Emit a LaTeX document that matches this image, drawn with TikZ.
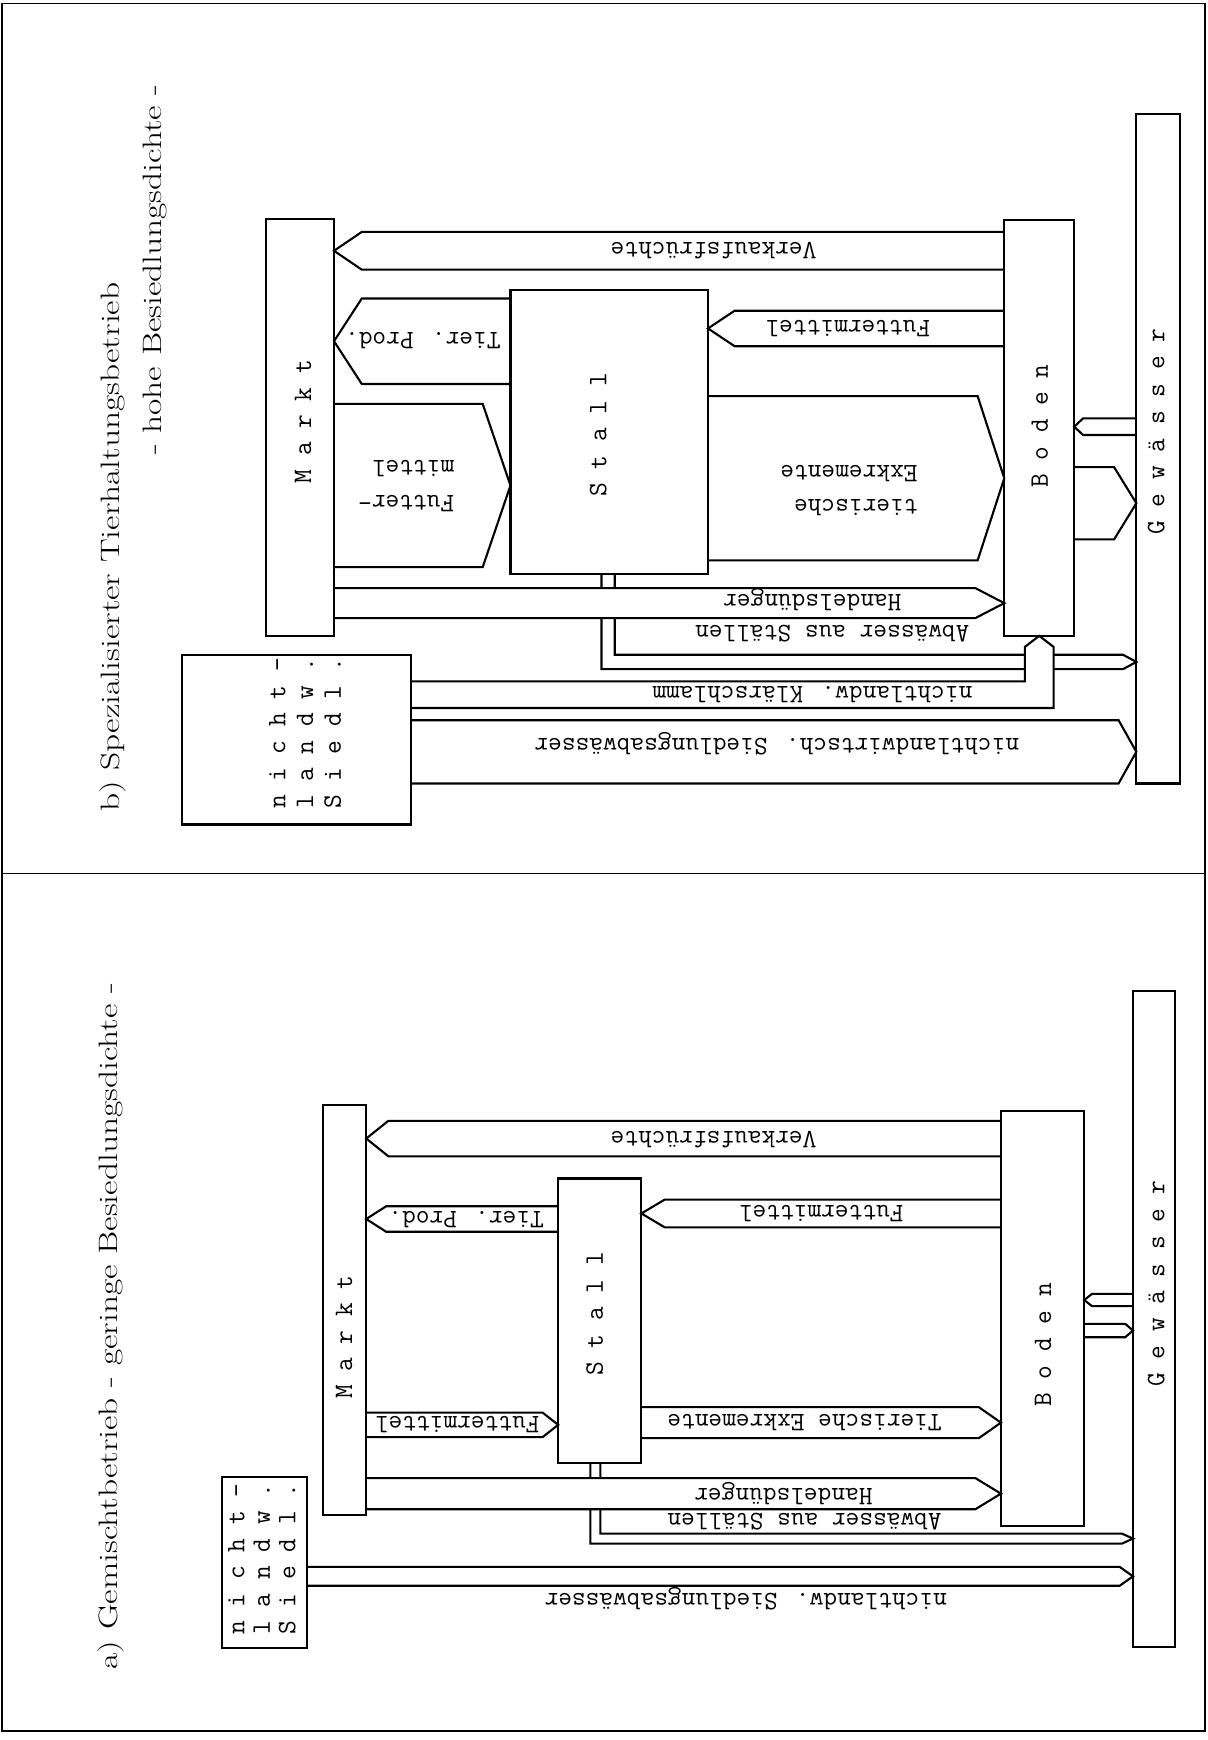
\documentclass[tikz,border=0pt]{standalone}
\usepackage{fontspec}
\usetikzlibrary{calc}

\newcommand{\twfont}{\ttfamily\addfontfeatures{FakeBold=1.3}}

% fat flow arrow: tail anchor, tip anchor, top y, bottom y, head length (signed)
\newcommand{\fatflow}[5]{%
  \path[flow] (#1 |- 0,#3) -- ($(#2 |- 0,#3)+(#5,0)$) -- (#2 |- 0,{(#3+#4)/2})
    -- ($(#2 |- 0,#4)+(#5,0)$) -- (#1 |- 0,#4);}

\begin{document}
\begin{tikzpicture}[
    x=1pt, y=-1pt,
    box/.style={draw, fill=white, line width=1.9pt, inner sep=0pt, outer sep=0pt},
    flow/.style={draw, fill=white, line width=1.9pt, line join=miter},
    frame/.style={line width=1.4pt},
    tw/.style={font=\fontsize{24}{27}\twfont, inner sep=0pt},
    flowlabel/.style={tw, rotate=180},
    twolines/.style={font=\fontsize{24}{31}\twfont, align=left},
    boxlabel/.style={tw, rotate=90},
    title/.style={font=\fontsize{24}{28}\selectfont\addfontfeatures{FakeBold=0.6}, rotate=90, inner sep=0pt}
]
\useasboundingbox (0,0) rectangle (1088,1568);

% Frame
\draw[frame] (2,3) rectangle (1086,1560);
\draw[frame] (2,787) -- (1086,787);

% ============ b) SPEZIALISIERTER TIERHALTUNGSBETRIEB ============
\node[title] (titleB) at (102,493) {\scalebox{1.33}[1]{b) Spezialisierter Tierhaltungsbetrieb}};
\node[title] (subB) at (140,243) {\scalebox{1.33}[1]{- hohe Besiedlungsdichte -}};

% Boxes
\node[box, minimum width=61, minimum height=376] (marktB) at (270.5,385) {};
\node[box, minimum width=178, minimum height=256] (stallB) at (549,389) {};
\node[box, minimum width=63, minimum height=375] (bodenB) at (936.5,385.5) {};
\node[box, minimum width=39, minimum height=603] (gewB) at (1043.5,404.5) {};
\node[box, minimum width=206, minimum height=153] (siedlB) at (267,666.5) {};

% Flows
\fatflow{bodenB.west}{marktB.east}{209}{243}{25}
\fatflow{bodenB.west}{stallB.east}{280}{312}{24}
\fatflow{stallB.west}{marktB.east}{269}{346}{25}
\fatflow{marktB.east}{stallB.west}{364}{511}{-25}
\fatflow{stallB.east}{bodenB.west}{357}{505}{-24}

% Abwaesser pipe from the stable
\path[flow] ($(stallB.south west)+(94,0)$) -- ($(stallB.south west)+(94,73)$)
    -- ($(gewB.west |- 0,590)+(-12,0)$) -- (gewB.west |- 0,596.5)
    -- ($(gewB.west |- 0,603)+(-12,0)$) -- ($(stallB.south west)+(82,86)$)
    -- ($(stallB.south west)+(82,0)$);

\fatflow{marktB.east}{bodenB.west}{530}{557}{-26}

% Klaerschlamm up into the soil
\path[flow] (siedlB.east |- 0,614) -- ($(bodenB.south)+(-13,41)$) -- ($(bodenB.south)+(-13,10)$)
    -- (bodenB.south) -- ($(bodenB.south)+(13,10)$) -- ($(bodenB.south)+(13,65)$)
    -- (siedlB.east |- 0,638);

\fatflow{siedlB.east}{gewB.west}{649}{706}{-16}
\fatflow{gewB.west}{bodenB.east}{377}{392}{8}
\fatflow{bodenB.east}{gewB.west}{421}{486}{-20}

% Labels
\node[boxlabel] at (273,380) {M a r k t};
\node[boxlabel] at (539,392) {S t a l l};
\node[boxlabel] at (937,384) {B o d e n};
\node[boxlabel] at (1042,389) {G e w ä s s e r};
\node[boxlabel, align=left, font=\fontsize{24}{25}\twfont] at (275,661)
    {n i c h t -\\l a n d w .\\S i e d l .};

\node[flowlabel] at (643,226) {Verkaufsfrüchte};
\node[flowlabel] at (764,296) {Futtermittel};
\node[flowlabel] at (381,307) {Tier. Prod.};
\node[flowlabel, twolines] at (366,438) {Futter-\\mittel};
\node[flowlabel, twolines] at (765,442) {tierische\\Exkremente};
\node[flowlabel] at (732,540) {Handelsdünger};
\node[flowlabel] at (750,571) {Abwässer aus Ställen};
\node[flowlabel] at (732,626) {nichtlandw. Klärschlamm};
\node[flowlabel] at (700,670) {nichtlandwirtsch. Siedlungsabwässer};

% ============ a) GEMISCHTBETRIEB ============
\node[title] (titleA) at (100,1195) {\scalebox{1.33}[1]{a) Gemischtbetrieb - geringe Besiedlungsdichte -}};

% Boxes
\node[box, minimum width=39, minimum height=369] (marktA) at (310.5,1180.5) {};
\node[box, minimum width=75, minimum height=256] (stallA) at (540.5,1190) {};
\node[box, minimum width=75, minimum height=374] (bodenA) at (939.5,1188) {};
\node[box, minimum width=38, minimum height=591] (gewA) at (1040,1188.5) {};
\node[box, minimum width=77, minimum height=154] (siedlA) at (238.5,1408) {};

% Flows
\fatflow{bodenA.west}{marktA.east}{1010}{1042}{20}
\fatflow{bodenA.west}{stallA.east}{1081}{1106}{21}
\fatflow{stallA.west}{marktA.east}{1087}{1110}{18}
\fatflow{marktA.east}{stallA.west}{1273}{1295}{-14}
\fatflow{stallA.east}{bodenA.west}{1268}{1296}{-20}

% Abwaesser pipe from the stable
\path[flow] ($(stallA.south west)+(38,0)$) -- ($(stallA.south west)+(38,64)$)
    -- ($(gewA.west |- 0,1382)+(-10,0)$) -- (gewA.west |- 0,1386.5)
    -- ($(gewA.west |- 0,1391)+(-10,0)$) -- ($(stallA.south west)+(29,73)$)
    -- ($(stallA.south west)+(29,0)$);

\fatflow{marktA.east}{bodenA.west}{1332}{1360}{-23}
\fatflow{siedlA.east}{gewA.west}{1412}{1429}{-12}
\fatflow{gewA.west}{bodenA.east}{1166}{1177}{7}
\fatflow{bodenA.east}{gewA.west}{1193}{1205}{-7}

% Labels
\node[boxlabel] at (310,1205) {M a r k t};
\node[boxlabel] at (536,1184) {S t a l l};
\node[boxlabel] at (940,1212) {B o d e n};
\node[boxlabel] at (1042,1157) {G e w ä s s e r};
\node[boxlabel, align=left, font=\fontsize{24}{23}\twfont] at (236,1405)
    {n i c h t -\\l a n d w .\\S i e d l .};

\node[flowlabel] at (643,1027) {Verkaufsfrüchte};
\node[flowlabel] at (740,1094) {Futtermittel};
\node[flowlabel] at (420,1099) {Tier. Prod.};
\node[flowlabel] at (412,1284) {Futtermittel};
\node[flowlabel] at (725,1282) {Tierische Exkremente};
\node[flowlabel] at (706,1346) {Handelsdünger};
\node[flowlabel] at (725,1371) {Abwässer aus Ställen};
\node[flowlabel] at (672,1441) {nichtlandw. Siedlungsabwässer};

% Box outlines once more over the arrow tails
\foreach \b in {marktB, stallB, bodenB, gewB, siedlB, marktA, stallA, bodenA, gewA, siedlA}
    \draw[line width=1.9pt] (\b.south west) rectangle (\b.north east);

\end{tikzpicture}
\end{document}
